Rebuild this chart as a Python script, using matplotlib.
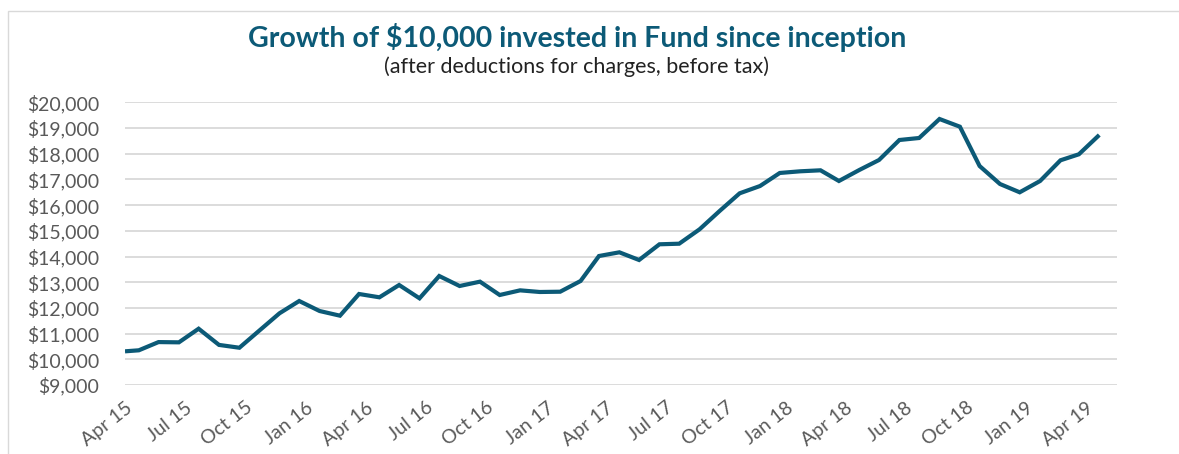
import matplotlib
matplotlib.use("Agg")
import matplotlib.pyplot as plt
from matplotlib.patches import Rectangle
import pandas as pd

# ---- data ----
inception = "2015-04-01"
valuation_dates = pd.date_range("2015-04-22", "2019-04-22", freq=pd.DateOffset(months=1))
dates = pd.DatetimeIndex([pd.Timestamp(inception)]).append(valuation_dates)
values = [10310, 10350, 10670, 10660, 11190, 10560, 10450, 11110, 11790, 12268,
          11879, 11697, 12541, 12412, 12891, 12373, 13241, 12852, 13021, 12502,
          12683, 12619, 12630, 13047, 14019, 14163, 13864, 14475, 14498, 15058,
          15782, 16459, 16743, 17250, 17315, 17354, 16938, 17366, 17755, 18533,
          18611, 19350, 19051, 17521, 16821, 16498, 16938, 17743, 17977, 18728]
tick_dates = pd.date_range("2015-04-01", "2019-04-01", freq=pd.DateOffset(months=3))
tick_labels = [d.strftime("%b %y") for d in tick_dates]
y_ticks = list(range(9000, 20001, 1000))
y_labels = [f"${v:,}" for v in y_ticks]

title = "Growth of $10,000 invested in Fund since inception"
subtitle = "(after deductions for charges, before tax)"

line_color = "#0c5a77"
grid_color = "#d9d9d9"
text_color = "#595959"

fig = plt.figure(figsize=(11.79, 4.54), dpi=100)
fig.patch.set_facecolor("white")

# chart border
fig.patches.append(Rectangle((8 / 1179, -0.1), 1.2, 1 - 11 / 454 + 0.1,
                             transform=fig.transFigure, fill=False,
                             edgecolor="#d9d9d9", linewidth=1.0))

ax = fig.add_axes([125 / 1179, (454 - 385) / 454, (1117 - 125) / 1179, (385 - 102.3) / 454])
ax.plot(dates, values, color=line_color, linewidth=3.0, solid_joinstyle="miter",
        solid_capstyle="butt", zorder=3)

ax.set_ylim(9000, 20000)
ax.set_yticks(y_ticks)
ax.set_yticklabels(y_labels)
ax.set_xlim(pd.Timestamp("2015-04-01"), pd.Timestamp("2019-05-19"))
ax.set_xticks(tick_dates)
ax.set_xticklabels(tick_labels, rotation=38, ha="right", rotation_mode="anchor")

ax.grid(axis="y", color=grid_color, linewidth=1.3)
ax.grid(axis="x", visible=False)
ax.set_axisbelow(True)
for s in ax.spines.values():
    s.set_visible(False)
ax.tick_params(axis="both", length=0, colors=text_color, labelsize=14)
ax.tick_params(axis="y", pad=18.5)
ax.tick_params(axis="x", pad=10)
for lab in ax.get_xticklabels() + ax.get_yticklabels():
    lab.set_family("Lato")

fig.text(577 / 1179, 1 - 38 / 454, title, ha="center", va="center",
         fontsize=20.5, fontweight="bold", color="#0c5a77", family="Lato")
fig.text(577 / 1179, 1 - 67 / 454, subtitle, ha="center", va="center",
         fontsize=15.5, color="#222222", family="Lato")

fig.savefig("out.png", dpi=100, facecolor="white")
